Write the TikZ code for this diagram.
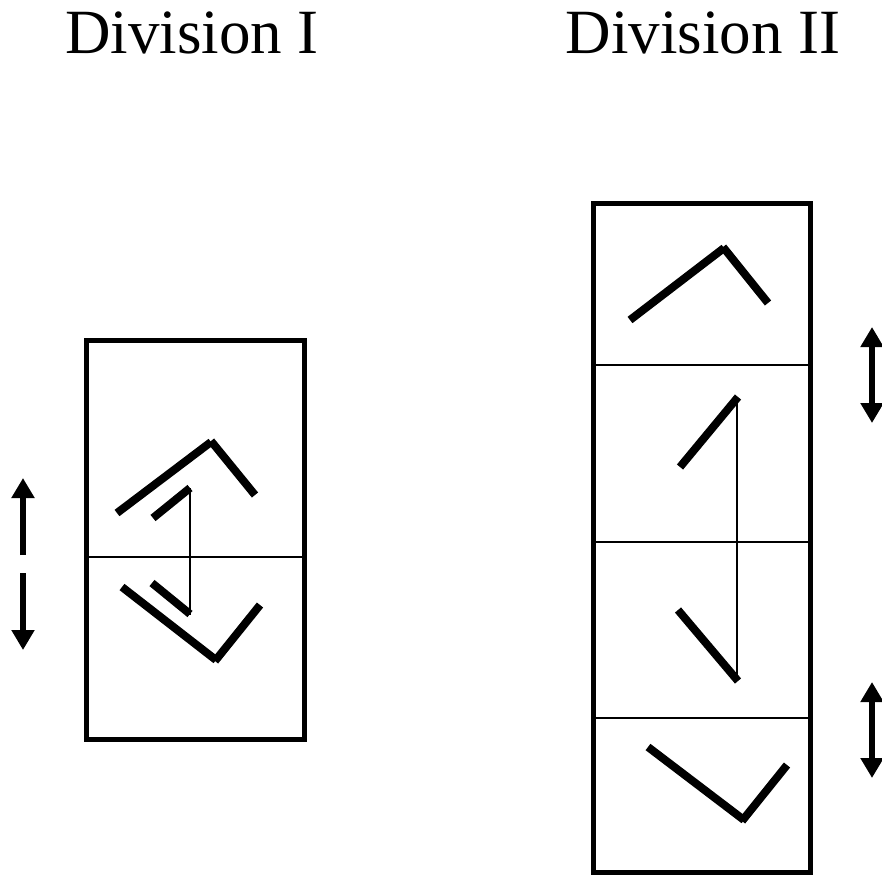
\documentclass[tikz,border=0pt]{standalone}
\usepackage{fontspec}
\setmainfont{Liberation Serif}
\usetikzlibrary{arrows.meta,positioning}

\begin{document}
\begin{tikzpicture}[x=1pt,y=-1pt,line cap=butt,
    frame/.style={draw,line width=5pt},
    divider/.style={draw,line width=1.5pt},
    bar/.style={draw,line width=8pt},
    rod/.style={draw,line width=2pt},
    motion/.style={line width=6pt,-{Triangle[width=22pt,length=20pt]}},
    twoway/.style={line width=6pt,{Triangle[width=22pt,length=20pt]}-{Triangle[width=22pt,length=20pt]}},
    title/.style={font=\fontsize{63}{70}\selectfont,anchor=base}]

            \useasboundingbox (0,0) rectangle (882,876);

            % titles
            \node[title] (t1) at (192,53) {Division I};
            \node[title] (t2) at (703,53) {Division II};

            % Division I
            \draw[frame] (86,340) rectangle (304,739);
            \draw[divider] (84,557) -- (305,557);

            \draw[bar] (117,513) -- (211,442);
            \draw[bar] (211,441) -- (255,495);
            \draw[bar] (153,518) -- (190,488);
            \draw[rod] (190,488) -- (190,615);
            \draw[bar] (152,583) -- (190,614);
            \draw[bar] (122,587) -- (216,660);
            \draw[bar] (215,661) -- (260,605);

            \coordinate (u0) at (23,555);
            \coordinate (u1) at (23,478);
            \coordinate (d0) at (23,573);
            \coordinate (d1) at (23,650);
            \draw[motion] (u0) -- (u1);
            \draw[motion] (d0) -- (d1);

            % Division II
            \draw[frame] (593,203) rectangle (810,872);
            \foreach \y in {365,542,718}
              {
                \draw[divider] (592,\y) -- (812,\y);
              }

            \draw[bar] (630,320) -- (724,248);
            \draw[bar] (723,247) -- (768,303);
            \draw[bar] (680,467) -- (738,397);
            \draw[rod] (737,397) -- (737,679);
            \draw[bar] (678,610) -- (738,681);
            \draw[bar] (648,747) -- (744,820);
            \draw[bar] (742,821) -- (787,765);

            \coordinate (a0) at (872,327);
            \coordinate (a1) at (872,423);
            \coordinate (b0) at (872,682);
            \coordinate (b1) at (872,778);
            \draw[twoway] (a0) -- (a1);
            \draw[twoway] (b0) -- (b1);

        \end{tikzpicture}
\end{document}
